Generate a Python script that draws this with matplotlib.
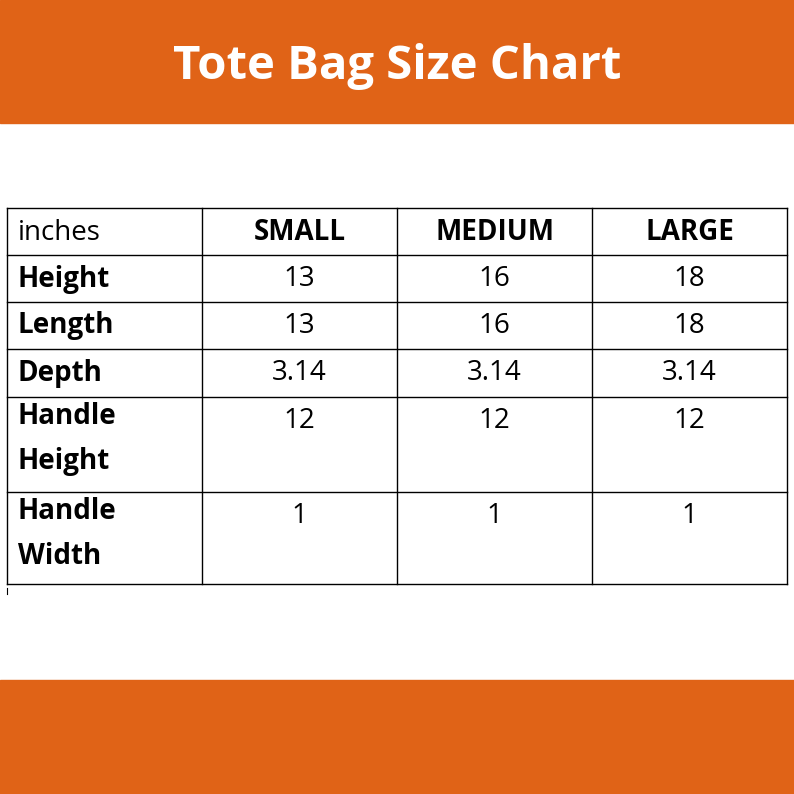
import matplotlib
matplotlib.use("Agg")
import matplotlib.pyplot as plt
from matplotlib.patches import Rectangle

title = "Tote Bag Size Chart"
corner = "inches"
sizes = ["SMALL", "MEDIUM", "LARGE"]
measures = ["Height", "Length", "Depth", "Handle\nHeight", "Handle\nWidth"]
small = ["13", "13", "3.14", "12", "1"]
medium = ["16", "16", "3.14", "12", "1"]
large = ["18", "18", "3.14", "12", "1"]

orange = "#E06317"
fig = plt.figure(figsize=(7.94, 7.94), dpi=100)
ax = fig.add_axes([0, 0, 1, 1])
ax.set_xlim(0, 794); ax.set_ylim(794, 0); ax.axis("off")
ax.add_patch(Rectangle((0, 0), 794, 123, color=orange))
ax.add_patch(Rectangle((0, 680), 794, 114, color=orange))
ax.text(397, 66, title, color="white", fontsize=34, fontweight="bold",
        family="Open Sans", ha="center", va="center")

col_x = [7, 202, 397, 592, 787]
row_y = [208, 255, 302, 349, 397, 492, 584]
font = dict(family="Open Sans", fontsize=20)
for x in col_x:
    ax.plot([x, x], [row_y[0], row_y[-1]], color="black", lw=1)
for y in row_y:
    ax.plot([col_x[0], col_x[-1]], [y, y], color="black", lw=1)
ax.plot([7, 7], [588, 594], color="black", lw=0.8)

ax.text(18, 233, corner, va="center", ha="left", **font)
for j, s in enumerate(sizes):
    ax.text((col_x[j+1]+col_x[j+2])/2, 233, s, ha="center", va="center",
            fontweight="bold", **font)
cols = [small, medium, large]
for i, m in enumerate(measures):
    top = row_y[i+1]
    if "\n" in m:
        ax.text(18, top + 5, m, ha="left", va="top", fontweight="bold",
                linespacing=1.75, **font)
    else:
        ax.text(18, top + 24, m, ha="left", va="center", fontweight="bold", **font)
    for j in range(3):
        ax.text((col_x[j+1]+col_x[j+2])/2, top + 24, cols[j][i],
                ha="center", va="center", **font)

fig.savefig("out.png", dpi=100)
